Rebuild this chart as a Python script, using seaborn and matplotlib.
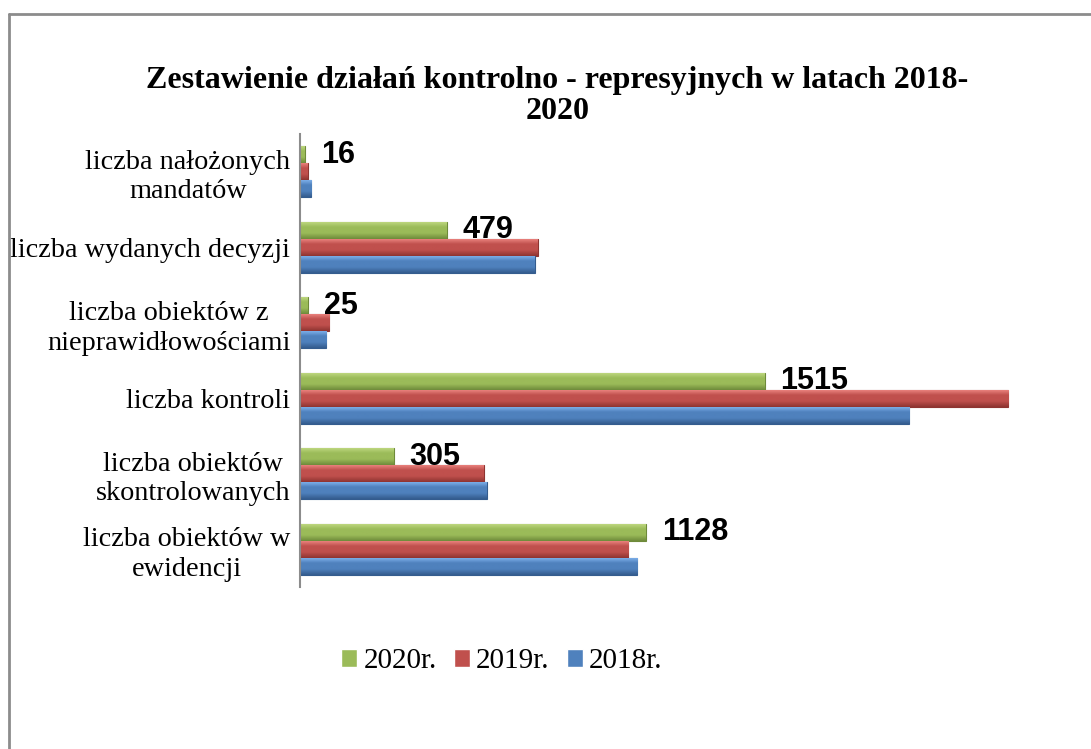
import numpy as np
import pandas as pd
import seaborn as sns
import matplotlib.pyplot as plt
from matplotlib.lines import Line2D
from matplotlib.colors import LinearSegmentedColormap

categories = ["liczba nałożonych\nmandatów",
              "liczba wydanych decyzji",
              "liczba obiektów z\nnieprawidłowościami",
              "liczba kontroli",
              "liczba obiektów\nskontrolowanych",
              "liczba obiektów w\newidencji"]
series = ["2020r.", "2019r.", "2018r."]
v2020 = [16, 479, 25, 1515, 305, 1128]
v2019 = [26, 775, 95, 2310, 599, 1070]
v2018 = [36, 766, 85, 1987, 609, 1100]
colors = ["#9BBB59", "#C0504D", "#4F81BD"]
lights = ["#C4DC86", "#F08A86", "#84B6F0"]
edges = ["#6E8A3A", "#8E3431", "#345C8E"]

rows = []
for s, vals in zip(series, [v2020, v2019, v2018]):
    for c, v in zip(categories, vals):
        rows.append({"cat": c, "val": v, "series": s})
df = pd.DataFrame(rows)

sns.set_style("white")
plt.rcParams['font.family'] = ['Liberation Serif', 'DejaVu Serif']
plt.rcParams['text.color'] = 'black'
plt.rcParams['ytick.color'] = 'black'

W, H = 1091, 749
fig = plt.figure(figsize=(W / 100, H / 100), dpi=100)
ax = fig.add_axes([300 / W, 162 / H, 736 / W, 453 / H])

sns.barplot(data=df, y="cat", x="val", hue="series", orient="h",
            order=categories, hue_order=series, palette=colors,
            saturation=1, width=0.68, ax=ax, legend=True)

ax.set_xlim(0, 2400)
ax.set_ylim(5.5, -0.5)

grad = np.linspace(0, 1, 64).reshape(-1, 1)
for cont, ec, base, light in zip(ax.containers, edges, colors, lights):
    cmap = LinearSegmentedColormap.from_list("g", [light, base, base, ec])
    for b in cont:
        b.set_edgecolor(ec)
        b.set_linewidth(0.8)
        x, y = b.get_x(), b.get_y()
        w, h = b.get_width(), b.get_height()
        im = ax.imshow(grad, cmap=cmap, aspect='auto',
                       extent=[x, x + w, y + h, y], origin='upper',
                       zorder=b.get_zorder() + 0.1, interpolation='bilinear')
        im.set_clip_path(b)

ax.bar_label(ax.containers[0], padding=11.5, fontsize=22, fontweight='bold',
             family='Liberation Sans', color='black')

ax.set_xlim(0, 2400)
ax.set_ylim(5.5, -0.5)
ax.set_xlabel("")
ax.set_ylabel("")
ax.set_xticks([])
for sp in ["top", "right", "bottom"]:
    ax.spines[sp].set_visible(False)
ax.spines["left"].set_color("#8C8C8C")
ax.spines["left"].set_linewidth(1.5)
ax.tick_params(axis='y', length=0, pad=7, labelsize=20.3)
for lab in ax.get_yticklabels():
    lab.set_multialignment('center')
    lab.set_linespacing(1.25)

handles, labels = ax.get_legend_handles_labels()
ax.get_legend().remove()
fig.legend(handles, labels, loc='center', bbox_to_anchor=(0.46, 0.117),
           ncol=3, frameon=False, fontsize=21, handlelength=0.55,
           handleheight=0.55, handletextpad=0.2, columnspacing=0.6)

fig.text(0.511, 1 - 66 / H,
         "Zestawienie działań kontrolno - represyjnych w latach 2018-\n2020",
         ha='center', va='top', fontsize=23, fontweight='bold',
         multialignment='center', linespacing=1.1)

fig.add_artist(Line2D([8.5 / W, 8.5 / W], [0, 1 - 14 / H], transform=fig.transFigure,
                      color="#8C8C8C", lw=2))
fig.add_artist(Line2D([8.5 / W, 1], [1 - 14 / H, 1 - 14 / H], transform=fig.transFigure,
                      color="#8C8C8C", lw=2))

fig.savefig("out.png", dpi=100, facecolor="white")
